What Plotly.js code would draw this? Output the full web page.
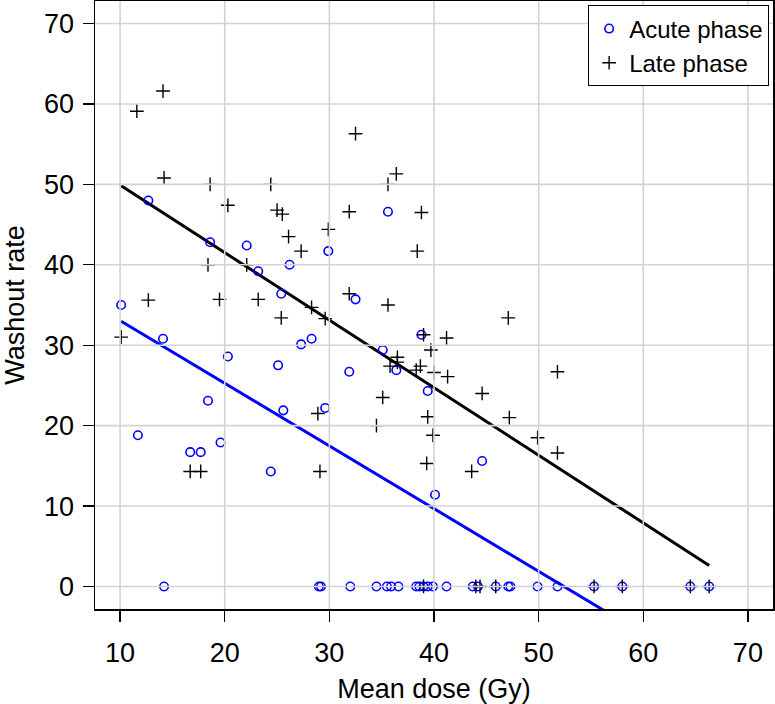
<!DOCTYPE html>
<html><head><meta charset="utf-8">
<script src="https://cdn.plot.ly/plotly-3.0.1.min.js"></script>
<style>html,body{margin:0;padding:0;background:#fff}</style>
</head><body><div id="chart" style="width:775px;height:704px"></div>
<script>
const acuteX = [12.7, 35.6, 18.6, 22.1, 23.2, 26.2, 25.4, 29.9, 32.5, 10.1, 14.1, 27.3, 28.3, 20.3, 25.1, 18.4, 25.6, 35.1, 38.8, 36.4, 31.9, 39.4, 29.6, 44.6, 40.1, 11.7, 16.7, 17.7, 19.6, 24.4,
  14.2, 29.0, 29.2, 32.0, 34.5, 35.5, 35.9, 36.6, 38.3, 38.6, 39.0, 39.4, 39.9, 41.2, 43.7, 44.2, 45.9, 47.1, 47.3, 49.9, 51.8, 55.3, 58.0, 64.5, 66.3];
const acuteY = [48.0, 46.6, 42.8, 42.4, 39.2, 40.0, 36.4, 41.7, 35.7, 35.0, 30.8, 30.1, 30.8, 28.6, 27.5, 23.1, 21.9, 29.4, 31.3, 26.9, 26.7, 24.3, 22.2, 15.6, 11.4, 18.8, 16.7, 16.7, 17.9, 14.3,
  0, 0, 0, 0, 0, 0, 0, 0, 0, 0, 0, 0, 0, 0, 0, 0, 0, 0, 0, 0, 0, 0, 0, 0, 0];
const lateX = [14.1, 11.6, 14.2, 18.6, 24.4, 20.3, 25.0, 25.5, 32.5, 36.4, 35.6, 31.9, 38.8, 26.1, 27.3, 29.9, 38.4, 18.4, 22.1, 28.3, 12.7, 19.5, 23.2, 25.4, 10.1, 31.9, 35.6, 29.6, 47.1, 39.0, 41.2, 39.7, 36.5, 36.5, 35.8, 38.7, 38.3, 40.0, 41.3, 44.6, 35.1, 28.9, 39.4, 47.2, 34.5, 39.9, 49.9, 39.3, 43.6, 29.1, 16.7, 17.7, 51.8, 51.8,
  39.0, 44.0, 44.4, 45.9, 55.3, 58.0, 64.5, 66.3];
const lateY = [61.6, 59.1, 50.8, 50, 50, 47.4, 46.8, 46.3, 56.3, 51.3, 50, 46.6, 46.5, 43.5, 41.7, 44.4, 41.7, 40, 40, 34.7, 35.6, 35.7, 35.7, 33.4, 31.0, 36.4, 35.0, 33.3, 33.4, 31.3, 30.9, 29.4, 28.5, 27.9, 27.4, 27.4, 26.9, 26.6, 26.1, 24.0, 23.5, 21.5, 21.1, 21.0, 20, 18.8, 18.5, 15.3, 14.3, 14.3, 14.3, 14.3, 16.6, 26.7,
  0, 0, 0, 0, 0, 0, 0, 0];
// fitted regression lines [intercept, slope]
const acuteFit = [40.86, -0.7795];
const lateFit = [58.31, -0.840];
const xTicks = [10, 20, 30, 40, 50, 60, 70];
const yTicks = [0, 10, 20, 30, 40, 50, 60, 70];
const seriesNames = ['Acute phase', 'Late phase'];

const allX = acuteX.concat(lateX);
const xMin = Math.min(...allX), xMax = Math.max(...allX);
const fitXs = [xMin, xMax];
const evalFit = f => fitXs.map(x => f[0] + f[1] * x);

const FONT = 'Liberation Sans, Arial, Helvetica, sans-serif';

const traces = [
  {x: fitXs, y: evalFit(lateFit), mode: 'lines', line: {color: 'black', width: 3}, showlegend: false, hoverinfo: 'skip'},
  {x: fitXs, y: evalFit(acuteFit), mode: 'lines', line: {color: '#0000ff', width: 3}, showlegend: false, hoverinfo: 'skip'},
  {x: acuteX, y: acuteY, name: seriesNames[0], mode: 'markers', cliponaxis: false,
   marker: {symbol: 'circle-open', size: 8.5, color: '#0000ff', line: {width: 1.6, color: '#0000ff'}}},
  {x: lateX, y: lateY, name: seriesNames[1], mode: 'markers', cliponaxis: false,
   marker: {symbol: 'cross-thin-open', size: 9.8, color: 'black', line: {width: 1.4, color: 'black'}}}
];

const shapes = [];
xTicks.forEach(v => shapes.push({type: 'line', layer: 'above', xref: 'x', yref: 'paper', x0: v, x1: v, y0: 0, y1: 1, line: {color: '#d3d3d3', width: 1.6}}));
yTicks.forEach(v => shapes.push({type: 'line', layer: 'above', xref: 'paper', yref: 'y', x0: 0, x1: 1, y0: v, y1: v, line: {color: '#d3d3d3', width: 1.6}}));

const axisCommon = {
  showgrid: false, zeroline: false, showline: true, mirror: true, linecolor: 'black', linewidth: 1.5,
  ticks: 'outside', ticklen: 11, tickwidth: 1.3, tickcolor: 'black',
  tickfont: {family: FONT, size: 27, color: 'black'}, automargin: false
};

const layout = {
  width: 775, height: 704,
  margin: {l: 95, r: 2, t: 1, b: 95},
  paper_bgcolor: 'white', plot_bgcolor: 'white',
  font: {family: FONT, color: 'black'},
  xaxis: Object.assign({}, axisCommon, {range: [7.6, 72.4], tickmode: 'array', tickvals: xTicks, ticklabelstandoff: 8,
    title: {text: 'Mean dose (Gy)', font: {family: FONT, size: 27, color: 'black'}, standoff: 13}}),
  yaxis: Object.assign({}, axisCommon, {range: [-2.8, 72.8], tickmode: 'array', tickvals: yTicks, ticklabelstandoff: 3,
    title: {text: 'Washout rate', font: {family: FONT, size: 27, color: 'black'}, standoff: 24}}),
  shapes: shapes,
  showlegend: true,
  legend: {x: 0.994, xanchor: 'right', y: 0.993, yanchor: 'top', bgcolor: 'white', bordercolor: 'black', borderwidth: 1.2,
    font: {family: FONT, size: 24, color: 'black'}, tracegroupgap: 0, itemsizing: 'trace'}
};

Plotly.newPlot('chart', traces, layout, {staticPlot: true});
</script></body></html>
